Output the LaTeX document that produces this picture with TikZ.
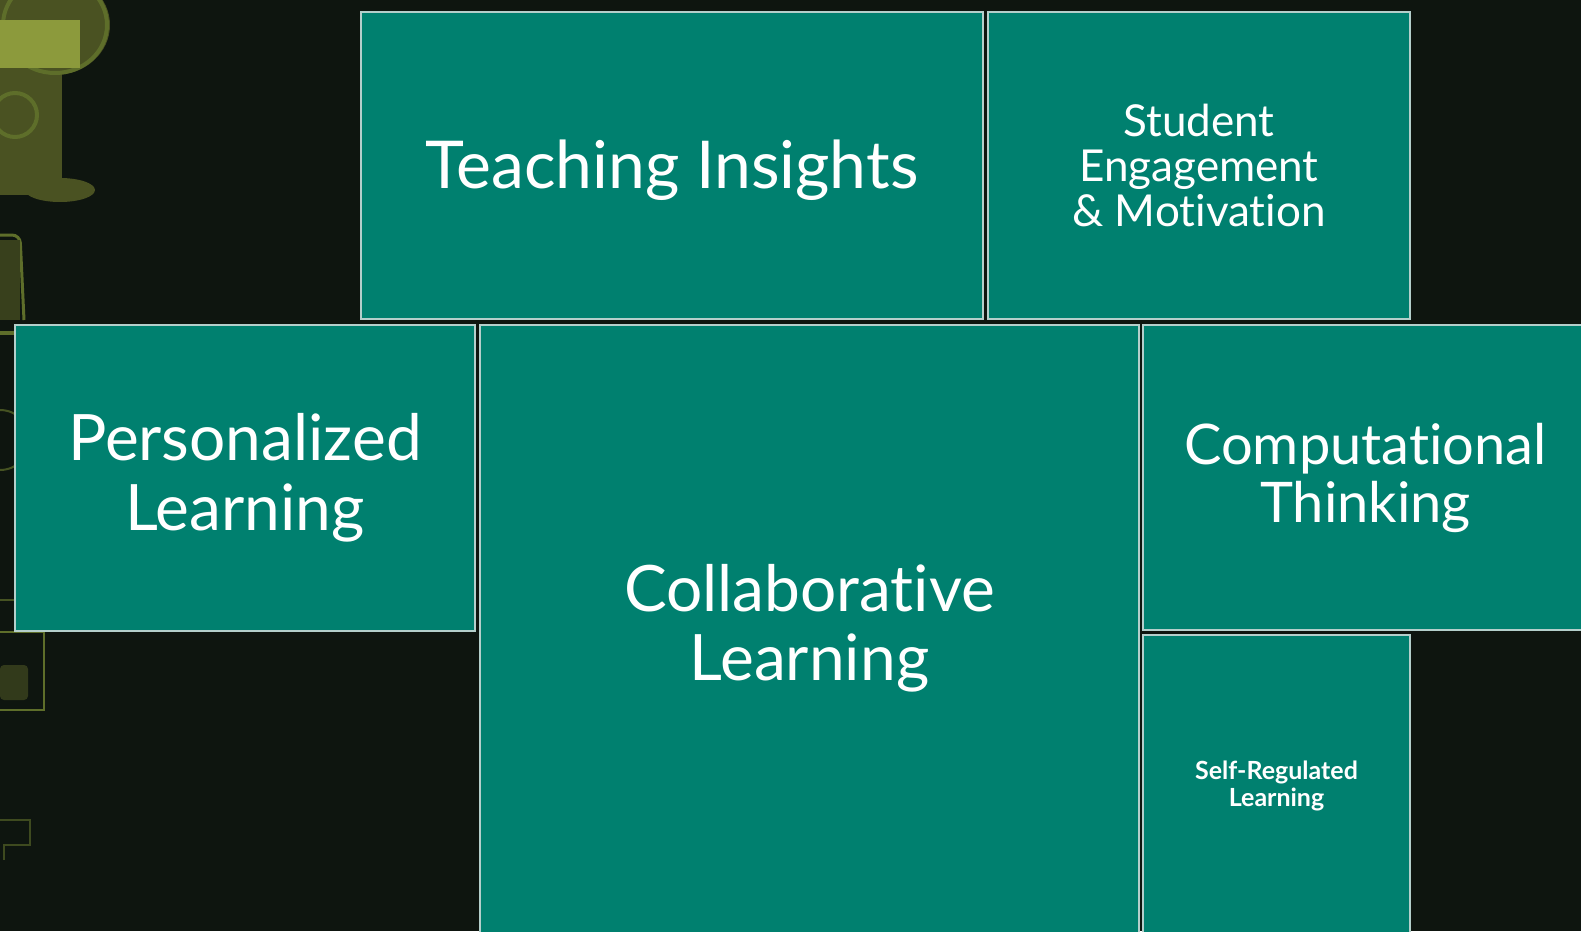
\documentclass[tikz,border=0pt]{standalone}
\usepackage{fontspec}
\setmainfont{Lato}[Ligatures=NoCommon]
\definecolor{bgc}{HTML}{0E150F}
\definecolor{teal}{HTML}{00806F}
\definecolor{edge}{HTML}{B4CFCB}
\definecolor{oliveA}{HTML}{8C9A3C}
\definecolor{oliveB}{HTML}{4A5222}
\definecolor{oliveC}{HTML}{5E6E2A}
\begin{document}
\begin{tikzpicture}[x=1pt,y=-1pt,
  tile/.style={draw=edge,line width=2pt,fill=teal,text=white,align=center,
    anchor=north west,inner sep=0pt,outer sep=0pt}]
\useasboundingbox (0,0) rectangle (1581,931);
\fill[bgc] (0,0) rectangle (1581,931);
\clip (0,0) rectangle (1581,931);
% faded decorations on the left
\fill[oliveB] (0,0) rectangle (62,195);
\fill[oliveB] (60,190) ellipse (35 and 12);
\fill[oliveB] (55,25) ellipse (55 and 50);
\draw[oliveC,line width=4pt] (55,25) ellipse (52 and 48);
\fill[oliveA] (0,20) rectangle (80,68);
\draw[oliveC,line width=4pt] (15,115) circle (22);
\draw[oliveC,line width=3pt,rounded corners=8pt] (-5,235) -- (20,235) -- (24,320);
\fill[oliveB!70!bgc] (0,240) rectangle (20,320);
\draw[oliveC,line width=4pt] (0,333) -- (20,333);
\draw[oliveC!70!bgc,line width=2pt] (0,440) circle (30);
\draw[oliveC!70!bgc,line width=2pt] (0,600) -- (15,600);
\draw[oliveC,line width=2pt] (0,632) -- (44,632) -- (44,710) -- (0,710);
\fill[oliveB!60!bgc,rounded corners=4pt] (0,665) rectangle (28,700);
\draw[oliveC!60!bgc,line width=1.5pt] (0,820) -- (30,820) -- (30,845) -- (4,845) -- (4,860);
% tiles
\node[tile,minimum width=622pt,minimum height=307pt,font=\fontsize{66}{72}\selectfont] (ti) at (361,12)
  {\raisebox{-5pt}[\height][\depth]{Teaching Insights}};
\node[tile,minimum width=422pt,minimum height=307pt,font=\fontsize{44}{45}\selectfont] (se) at (988,12)
  {Student\\Engagement\\\& Motivation};
\node[tile,minimum width=460pt,minimum height=306pt,font=\fontsize{64}{70}\selectfont] (pl) at (15,325)
  {Personalized\\Learning};
\node[tile,minimum width=659pt,minimum height=615pt,font=\fontsize{64}{69}\selectfont] (cl) at (480,325)
  {\raisebox{3pt}{\begin{tabular}{@{}c@{}}Collaborative\\Learning\end{tabular}}};
\node[tile,minimum width=445pt,minimum height=305pt,font=\fontsize{56}{58}\selectfont] (ct) at (1143,325)
  {Computational\\Thinking};
\node[tile,minimum width=267pt,minimum height=305pt,font=\fontsize{25}{26}\selectfont\bfseries] (sr) at (1143,635)
  {\raisebox{7pt}{\begin{tabular}{@{}c@{}}Self-Regulated\\Learning\end{tabular}}};
\end{tikzpicture}
\end{document}
